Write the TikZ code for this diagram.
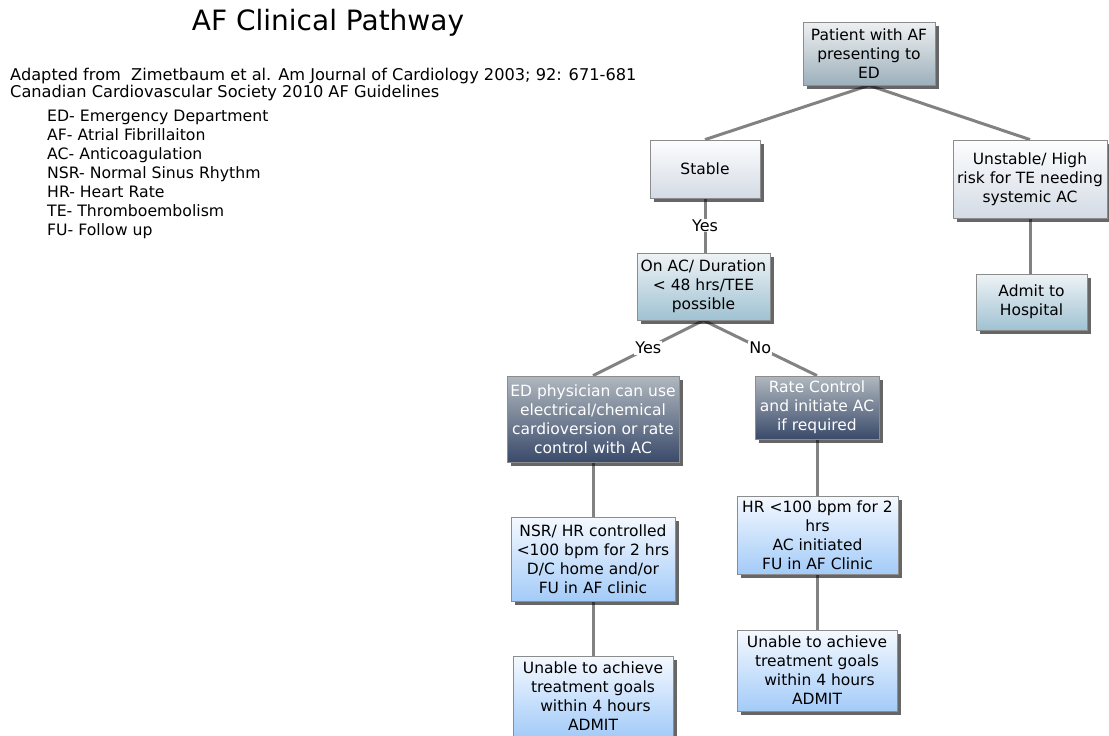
\documentclass[tikz,border=0pt]{standalone}
\usepackage{fontspec}
\setmainfont{DejaVu Sans}
\usetikzlibrary{positioning,shadows,backgrounds}
\definecolor{boxedge}{RGB}{140,140,140}
\definecolor{linkgray}{RGB}{130,130,130}
\definecolor{greytop}{RGB}{238,240,242}
\definecolor{greybot}{RGB}{157,176,187}
\definecolor{paletop}{RGB}{253,253,254}
\definecolor{palebot}{RGB}{212,219,229}
\definecolor{tealtop}{RGB}{238,243,246}
\definecolor{tealbot}{RGB}{160,194,210}
\definecolor{darktop}{RGB}{176,184,191}
\definecolor{darkbot}{RGB}{58,74,106}
\definecolor{bluetop}{RGB}{245,249,255}
\definecolor{bluebot}{RGB}{163,203,248}
\tikzset{
  box/.style={rectangle,draw=boxedge,line width=0.8pt,inner sep=0pt,
              align=center,font=\fontsize{15.5}{19}\selectfont,
              drop shadow={shadow xshift=4pt,shadow yshift=-4pt,
                           fill=black,opacity=0.6}},
  greybox/.style={box,top color=greytop,bottom color=greybot},
  palebox/.style={box,top color=paletop,bottom color=palebot},
  tealbox/.style={box,top color=tealtop,bottom color=tealbot},
  darkbox/.style={box,top color=darktop,bottom color=darkbot,text=white},
  bluebox/.style={box,top color=bluetop,bottom color=bluebot},
  link/.style={draw=linkgray,line width=3pt},
  lbl/.style={fill=white,inner sep=1pt,font=\fontsize{16}{19}\selectfont},
}
\begin{document}
\begin{tikzpicture}[x=1pt,y=1pt]
    \useasboundingbox (0,0) rectangle (1109,-736);

    % legend
    \node (title) at (328,-23) {\fontsize{28}{32}\selectfont AF Clinical Pathway};
    \node[anchor=north west,inner sep=0pt,align=left,font=\fontsize{16.2}{17}\selectfont]
         (src) at (10,-68)
         {Adapted from\ \ Zimetbaum et al. Am Journal of Cardiology 2003; 92: 671-681\\
          Canadian Cardiovascular Society 2010 AF Guidelines};
    \node[anchor=north west,inner sep=0pt,align=left,font=\fontsize{15.7}{19}\selectfont]
         (abbr) at (47,-110)
         {ED- Emergency Department\\ AF- Atrial Fibrillaiton\\ AC- Anticoagulation\\
          NSR- Normal Sinus Rhythm\\ HR- Heart Rate\\ TE- Thromboembolism\\ FU- Follow up};

    % pathway
    \node[greybox,minimum width=132,minimum height=63] (PAT)  at (869,-53.5)
         {Patient with AF\\ presenting to\\ ED};
    \node[palebox,minimum width=110,minimum height=58] (STAB) at (705,-169) {Stable};
    \node[palebox,minimum width=154,minimum height=78] (UNST) at (1030,-179)
         {Unstable/ High\\ risk for TE needing\\ systemic AC};
    \node[tealbox,minimum width=111,minimum height=56] (ADM)  at (1031.5,-302)
         {Admit to\\ Hospital};
    \node[tealbox,minimum width=133,minimum height=67] (ONAC) at (703.5,-286.5)
         {On AC/ Duration\\ < 48 hrs/TEE\\ possible};
    \node[darkbox,minimum width=172,minimum height=86] (EDPH) at (593,-419)
         {ED physician can use\\ electrical/chemical\\ cardioversion or rate\\ control with AC};
    \node[darkbox,minimum width=124,minimum height=63] (RATE) at (817,-407.5)
         {Rate Control\\ and initiate AC\\ if required};
    \node[bluebox,minimum width=164,minimum height=84] (NSR)  at (593,-559)
         {NSR/ HR controlled\\ <100 bpm for 2 hrs\\ D/C home and/or\\ FU in AF clinic};
    \node[bluebox,minimum width=161,minimum height=78] (HR)   at (817.5,-535)
         {HR <100 bpm for 2\\ hrs\\ AC initiated\\ FU in AF Clinic};
    \node[bluebox,minimum width=160,minimum height=81] (UNL)  at (593,-696.5)
         {Unable to achieve\\ treatment goals\\ \ within 4 hours\\ ADMIT};
    \node[bluebox,minimum width=160,minimum height=81] (UNR)  at (817,-670.5)
         {Unable to achieve\\ treatment goals\\ \ within 4 hours\\ ADMIT};

    \begin{scope}[on background layer]
      \path[link] (PAT.south)  -- (STAB.north);
      \path[link] (PAT.south)  -- (UNST.north);
      \path[link] (UNST.south) -- (UNST.south |- ADM.north);
      \path[link] (STAB.south) -- node[lbl]{Yes} (STAB.south |- ONAC.north);
      \path[link] (ONAC.south) -- node[lbl]{Yes} (EDPH.north);
      \path[link] (ONAC.south) -- node[lbl]{No}  (RATE.north);
      \path[link] (EDPH.south) -- (EDPH.south |- NSR.north);
      \path[link] (NSR.south)  -- (NSR.south |- UNL.north);
      \path[link] (RATE.south) -- (RATE.south |- HR.north);
      \path[link] (HR.south)   -- (HR.south |- UNR.north);
    \end{scope}
  \end{tikzpicture}
\end{document}
